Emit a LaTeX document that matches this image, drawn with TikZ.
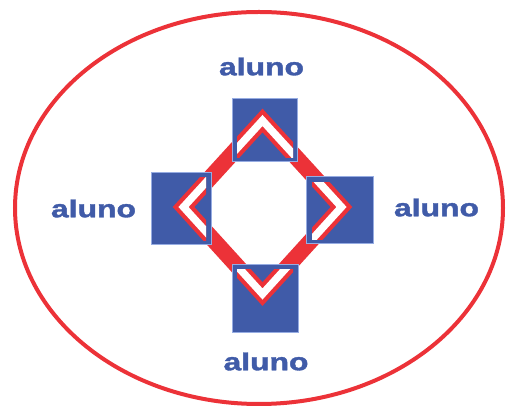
\documentclass[tikz,border=0pt]{standalone}
\usepackage{fontspec}
\setmainfont{Liberation Sans}
\newfontfamily\alunofont{Liberation Sans Bold}[FakeBold=1.4]
\definecolor{alunoblue}{RGB}{64,91,168}
\definecolor{ringred}{RGB}{236,50,56}
\definecolor{edgeblue}{RGB}{150,172,226}
\tikzset{
    alunotxt/.style={text=alunoblue, inner sep=0pt, font=\fontsize{24.5}{28}\alunofont},
    quadro/.style={fill=alunoblue, draw=edgeblue, line width=1},
    anel/.style={draw=ringred, line width=16, line join=miter},
    faixa/.style={draw=white, line width=7.5, line join=miter}
}
\newcommand{\aluno}{\scalebox{1.3}[1]{aluno}}
\begin{document}
\begin{tikzpicture}[x=1pt, y=-1pt]
        \useasboundingbox (0,0) rectangle (509,411);
        \draw[ringred, line width=4] (259,208) ellipse [x radius=244, y radius=196];

        \coordinate (cima) at (262.5,120.5);
        \coordinate (dir) at (341.5,207);
        \coordinate (baixo) at (262.5,294);
        \coordinate (esq) at (183.5,207);

        % losango
        \draw[anel] (cima) -- (dir) -- (baixo) -- (esq) -- cycle;

        % quadrados azuis
        \draw[quadro] (232,99) rectangle (297,162);
        \draw[quadro] (151,173) rectangle (211,245);
        \draw[quadro] (306,177) rectangle (373,244);
        \draw[quadro] (232,265) rectangle (298,333);

        % janelas
        \begin{scope}
            \clip (237,104) rectangle (293,158);
            \draw[anel] (cima) -- (dir) -- (baixo) -- (esq) -- cycle;
            \draw[faixa] (cima) -- (dir) -- (baixo) -- (esq) -- cycle;
        \end{scope}
        \begin{scope}
            \clip (160,178) rectangle (206,241);
            \draw[anel] (cima) -- (dir) -- (baixo) -- (esq) -- cycle;
            \draw[faixa] (cima) -- (dir) -- (baixo) -- (esq) -- cycle;
        \end{scope}
        \begin{scope}
            \clip (312,183) rectangle (365,240);
            \draw[anel] (cima) -- (dir) -- (baixo) -- (esq) -- cycle;
            \draw[faixa] (cima) -- (dir) -- (baixo) -- (esq) -- cycle;
        \end{scope}
        \begin{scope}
            \clip (237,270) rectangle (293,320);
            \draw[anel] (cima) -- (dir) -- (baixo) -- (esq) -- cycle;
            \draw[faixa] (cima) -- (dir) -- (baixo) -- (esq) -- cycle;
        \end{scope}

        \node[alunotxt] (alunocima) at (261.5,66.5) {\aluno};
        \node[alunotxt] (alunoesq) at (93.5,208.5) {\aluno};
        \node[alunotxt] (alunodir) at (436.5,207.5) {\aluno};
        \node[alunotxt] (alunobaixo) at (266,361.5) {\aluno};
\end{tikzpicture}
\end{document}
